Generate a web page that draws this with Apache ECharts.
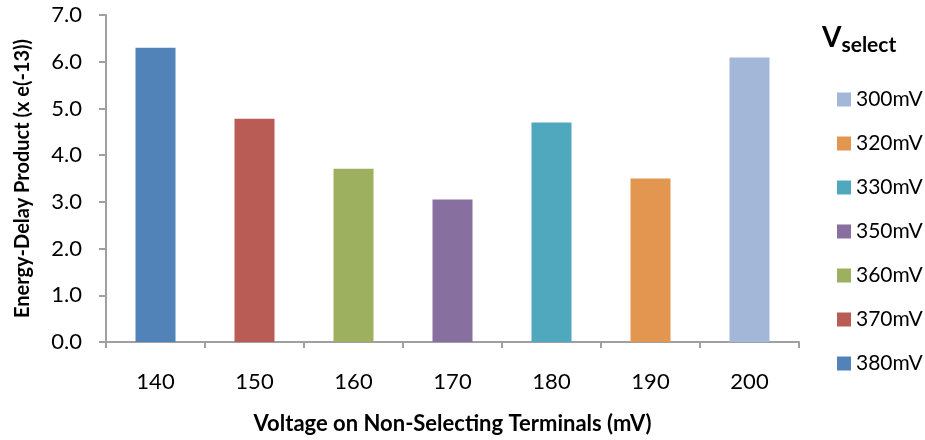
<!DOCTYPE html>
<html><head><meta charset="utf-8">
<script src="https://cdn.jsdelivr.net/npm/echarts@6/dist/echarts.min.js"></script>
<style>html,body{margin:0;padding:0;background:#fff}#c{width:925px;height:440px}</style>
</head><body><div id="c"></div>
<script>
const categories = ['140','150','160','170','180','190','200'];
const seriesNames = ['380mV','370mV','360mV','350mV','330mV','320mV','300mV'];
const seriesValues = [6.3, 4.78, 3.71, 3.05, 4.70, 3.50, 6.09];
const seriesColors = ['#5182B8','#B95C55','#9DB060','#876FA0','#50A8BF','#E3964F','#A3B7D8'];
const legendOrder = ['300mV','320mV','330mV','350mV','360mV','370mV','380mV'];
const yTicks = [0,1,2,3,4,5,6,7];

const FONT = 'Lato, "Open Sans", sans-serif';
const series = seriesNames.map((n,i)=>({
  name:n, type:'bar', barWidth:40, barGap:'-100%',
  itemStyle:{color:seriesColors[i]},
  data: categories.map((c,j)=> j===i ? seriesValues[i] : '-')
}));

const chart = echarts.init(document.getElementById('c'));
chart.setOption({
  animation:false,
  textStyle:{fontFamily:FONT},
  title:{
    text:'{v|V}{s|select}', left:817, top:14,
    textStyle:{rich:{
      v:{fontSize:28,fontWeight:'bold',color:'#000',fontFamily:FONT},
      s:{fontSize:21,fontWeight:'bold',color:'#000',fontFamily:FONT,padding:[16,0,0,0]}
    }}
  },
  legend:{
    orient:'vertical', left:832, top:84, itemWidth:14, itemHeight:14, itemGap:23,
    icon:'rect', data:legendOrder,
    textStyle:{fontSize:21,color:'#000',fontFamily:FONT}
  },
  grid:{left:106,right:126,top:15,bottom:98,outerBoundsMode:'none'},
  xAxis:{
    type:'category', data:categories,
    name:'Voltage on Non-Selecting Terminals (mV)', nameLocation:'middle', nameGap:71,
    nameTextStyle:{fontSize:22,fontWeight:'bold',color:'#000',fontFamily:FONT},
    axisLine:{lineStyle:{color:'#A0A0A0',width:2}},
    axisTick:{show:true,length:6,lineStyle:{color:'#A0A0A0',width:2}},
    axisLabel:{fontSize:22,color:'#000',margin:29,fontFamily:FONT}
  },
  yAxis:{
    type:'value', min:yTicks[0], max:yTicks[yTicks.length-1], interval:1,
    name:'Energy-Delay Product (x e(-13))', nameLocation:'middle', nameGap:73,
    nameTextStyle:{fontSize:20,fontWeight:'bold',color:'#000',fontFamily:FONT},
    axisLine:{show:true,lineStyle:{color:'#A0A0A0',width:2}},
    axisTick:{show:true,length:7,lineStyle:{color:'#A0A0A0',width:2}},
    splitLine:{show:false},
    axisLabel:{fontSize:22,color:'#000',margin:24,fontFamily:FONT,formatter:v=>v.toFixed(1)}
  },
  series:series
});
</script></body></html>
